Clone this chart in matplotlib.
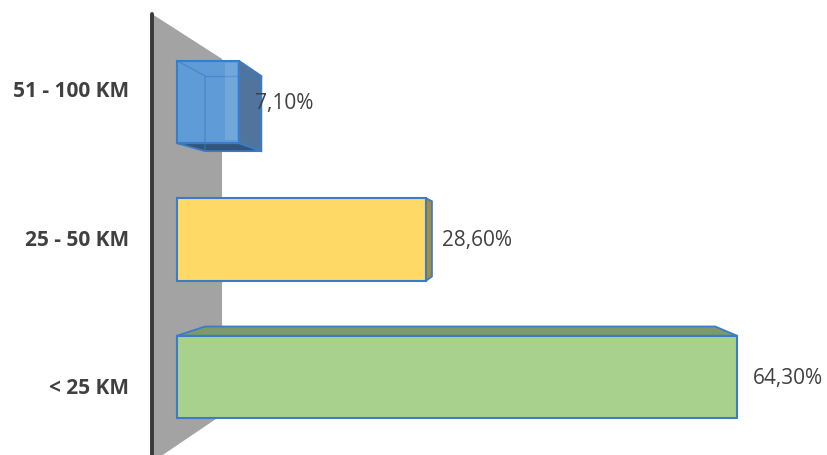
import matplotlib
matplotlib.use("Agg")
import matplotlib.pyplot as plt
from matplotlib.patches import Polygon

# data
categories = ["< 25 KM", "25 - 50 KM", "51 - 100 KM"]
values = [64.3, 28.6, 7.1]

front_colors = ["#A9D18E", "#FFD966", "#5F9BD6"]
side_colors = ["#7C9B66", "#A88C3A", "#50749C"]
cap_colors = ["#7C9B66", "#A88C3A", "#34557A"]
EDGE = "#3A7CC8"
TEXT = "#404040"
WALL = "#A3A3A3"

# perspective setup (data units: x in %, y in category slots)
VX, VY = 36.17, 1.0545      # vanishing point
DEPTH = 0.911               # back face scale for bars
WALL_DEPTH = 0.794
LABEL_DEPTH = 1.077
BAR_H = 0.6
WALL_X, WALL_TOP, WALL_BOT = -2.87, 2.64, -0.62


def back(x, y, s):
    return VX + (x - VX) * s, VY + (y - VY) * s


fig = plt.figure(figsize=(8.27, 4.55), dpi=100)
ax = fig.add_axes([0, 0, 1, 1])
ax.set_xlim(-20.32, 74.63)
ax.set_ylim(-0.5673, 2.7418)
ax.axis("off")

# side wall
w_pts = [(WALL_X, WALL_TOP), back(WALL_X, WALL_TOP, WALL_DEPTH),
         back(WALL_X, WALL_BOT, WALL_DEPTH), (WALL_X, WALL_BOT)]
ax.add_patch(Polygon(w_pts, closed=True, facecolor=WALL, edgecolor="none", zorder=1))
ax.plot([WALL_X, WALL_X], [WALL_BOT, WALL_TOP], color="#3A3A3A", lw=2.8,
        solid_capstyle="round", zorder=2)

pos = list(range(len(values)))

# 3d faces behind the front rectangles
for i, (y, v) in enumerate(zip(pos, values)):
    x0, x1 = 0, v
    y0, y1 = y - BAR_H / 2, y + BAR_H / 2
    bx0, by0 = back(x0, y0, DEPTH)
    bx1, by1 = back(x1, y1, DEPTH)
    if x1 < VX:
        ax.add_patch(Polygon([(x1, y0), (x1, y1), (bx1, by1), (bx1, by0)],
                             facecolor=side_colors[i], edgecolor=EDGE, lw=1.3, zorder=3))
    if y1 < VY:
        ax.add_patch(Polygon([(x0, y1), (x1, y1), (bx1, by1), (bx0, by1)],
                             facecolor=cap_colors[i], edgecolor=EDGE, lw=1.3, zorder=3))
    if y0 > VY:
        ax.add_patch(Polygon([(x0, y0), (x1, y0), (bx1, by0), (bx0, by0)],
                             facecolor=cap_colors[i], edgecolor=EDGE, lw=1.3, zorder=3))

ax.barh(pos, values, height=BAR_H, left=0, color=front_colors,
        edgecolor=EDGE, linewidth=1.5, zorder=4)

# hidden edges seen through the translucent small bar
y, v = pos[2], values[2]
y0, y1 = y - BAR_H / 2, y + BAR_H / 2
bx0, by0 = back(0, y0, DEPTH)
bx1, by1 = back(v, y1, DEPTH)
ax.plot([0, bx0, bx0], [y1, by1, by0], color=EDGE, lw=1.0, alpha=0.6, zorder=5)
ax.plot([bx0, bx1], [by1, by1], color=EDGE, lw=1.0, alpha=0.6, zorder=5)
ax.add_patch(Polygon([(v * 0.78, y0 + 0.02), (v * 0.97, y0 + 0.02),
                      (v * 0.97, y1 - 0.02), (v * 0.78, y1 - 0.02)],
                     facecolor="white", alpha=0.12, edgecolor="none", zorder=5))

# value labels
for y, v in zip(pos, values):
    ax.text(v + 1.8, y - 0.01, f"{v:.2f}".replace(".", ",") + "%", ha="left", va="center",
            fontsize=15, color=TEXT, family="Open Sans", zorder=6)

# category labels
for y, c in zip(pos, categories):
    ly = VY + (y - VY) * LABEL_DEPTH
    ax.text(-5.5, ly, c, ha="right", va="center", fontsize=15, fontweight="bold",
            color=TEXT, family="Open Sans", zorder=6)

fig.savefig("out.png", dpi=100, facecolor="white")
